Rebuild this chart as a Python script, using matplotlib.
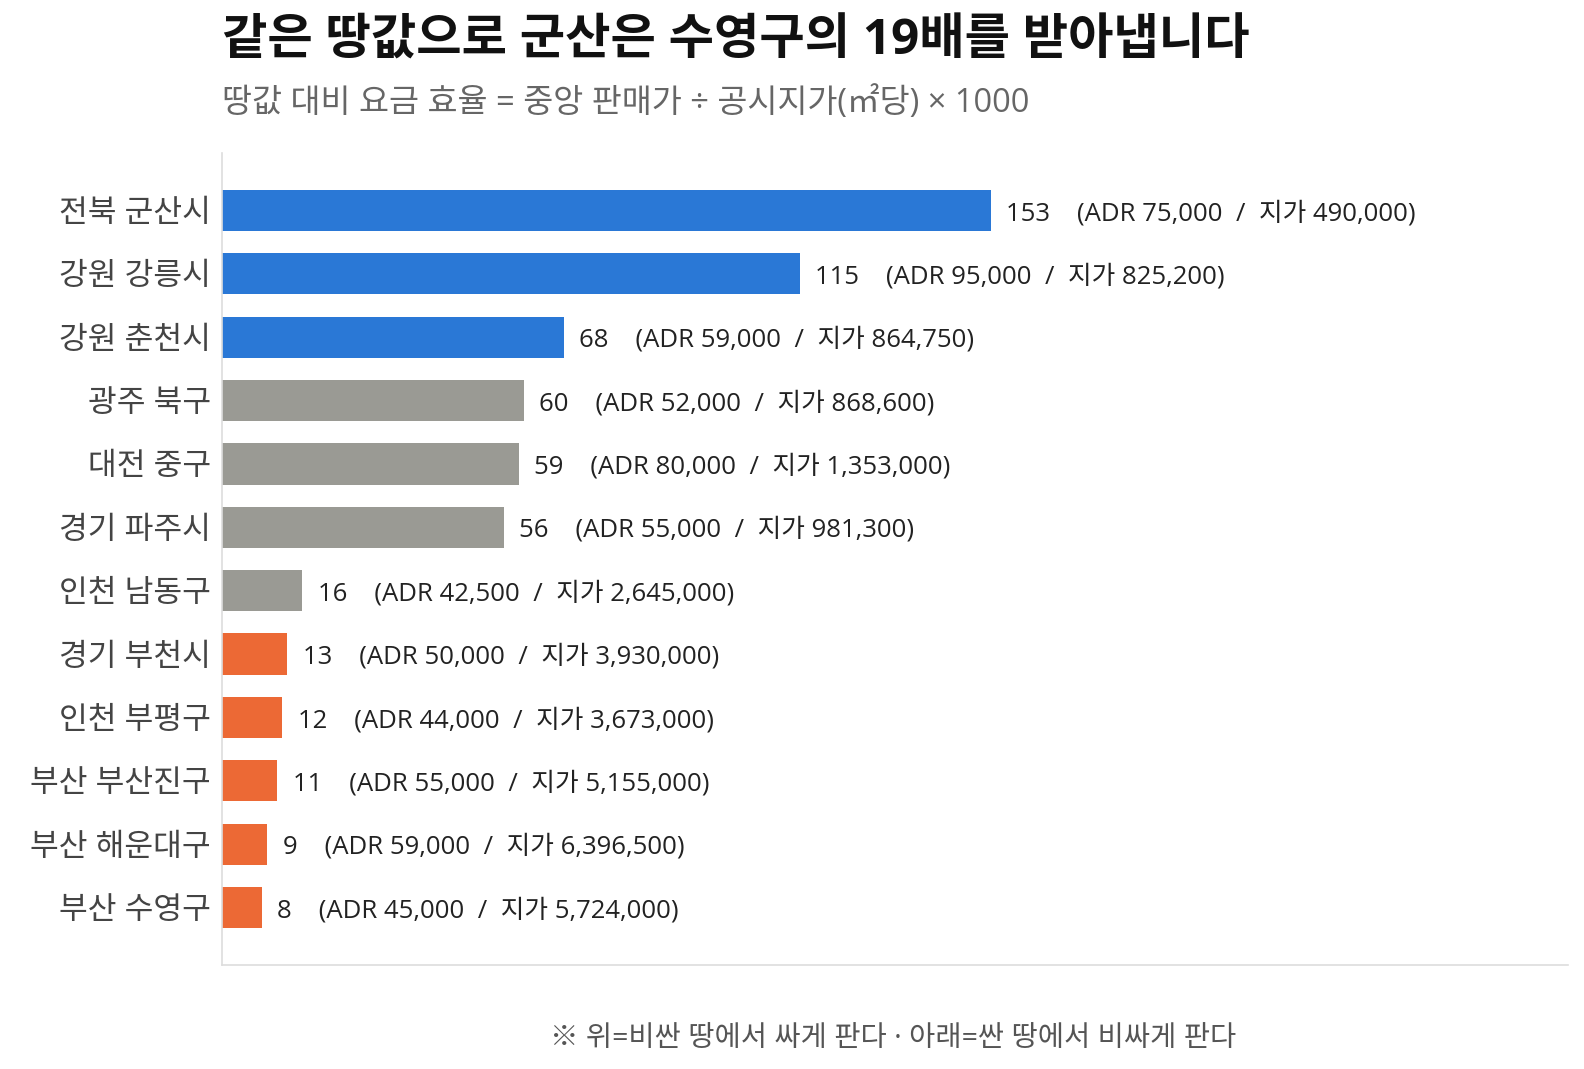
import matplotlib.pyplot as plt

plt.rcParams['font.family'] = ['Open Sans', 'Noto Sans CJK KR', 'DejaVu Sans']

# 데이터
regions = ['전북 군산시', '강원 강릉시', '강원 춘천시', '광주 북구', '대전 중구', '경기 파주시',
           '인천 남동구', '경기 부천시', '인천 부평구', '부산 부산진구', '부산 해운대구', '부산 수영구']
efficiency = [153, 115, 68, 60, 59, 56, 16, 13, 12, 11, 9, 8]
adr = [75000, 95000, 59000, 52000, 80000, 55000, 42500, 50000, 44000, 55000, 59000, 45000]
land_price = [490000, 825200, 864750, 868600, 1353000, 981300, 2645000,
              3930000, 3673000, 5155000, 6396500, 5724000]
groups = ['top', 'top', 'top', 'mid', 'mid', 'mid', 'mid', 'low', 'low', 'low', 'low', 'low']

group_colors = {'top': '#2a78d6', 'mid': '#9a9a94', 'low': '#ec6935'}

fig = plt.figure(figsize=(15.84, 10.69), dpi=100)
ax = fig.add_axes([222 / 1584, 1 - 965 / 1069, (1568 - 222) / 1584, (965 - 153) / 1069])

ypos = list(range(len(regions)))
colors = [group_colors[g] for g in groups]
ax.barh(ypos, efficiency, height=0.65, color=colors)
ax.invert_yaxis()
ax.set_xlim(0, max(efficiency) * 1.75)

for y, v, a, p in zip(ypos, efficiency, adr, land_price):
    ax.annotate(f'{v}    (ADR {a:,}  /  지가 {p:,})', xy=(v, y), xytext=(11, -2),
                textcoords='offset points', va='center', ha='left',
                fontsize=18.5, color='#222222')

ax.set_yticks(ypos)
ax.set_yticklabels(regions, fontsize=22.5, color='#444444')
ax.set_xticks([])
ax.tick_params(axis='y', length=0, pad=8)
for s in ['top', 'right']:
    ax.spines[s].set_visible(False)
for s in ['left', 'bottom']:
    ax.spines[s].set_color('#dddddd')
    ax.spines[s].set_linewidth(1.2)

fig.text(222 / 1584, 1 - 42 / 1069, '같은 땅값으로 군산은 수영구의 19배를 받아냅니다',
         fontsize=35.5, fontweight='bold', color='#111111', va='center', ha='left')
fig.text(222 / 1584, 1 - 103 / 1069, '땅값 대비 요금 효율 = 중앙 판매가 ÷ 공시지가(㎡당) × 1000',
         fontsize=23.5, color='#666666', va='center', ha='left')
fig.text(893 / 1584, 1 - 1039 / 1069, '※ 위=비싼 땅에서 싸게 판다 · 아래=싼 땅에서 비싸게 판다',
         fontsize=20.5, color='#555555', va='center', ha='center')

fig.savefig('out.png', dpi=100)
